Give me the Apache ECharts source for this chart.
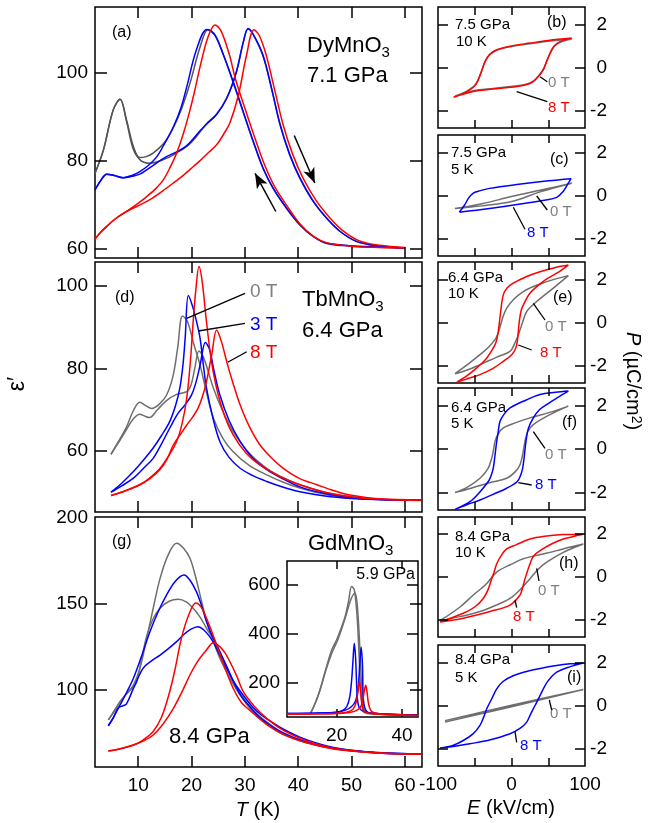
<!DOCTYPE html>
<html>
<head>
<meta charset="utf-8">
<script src="https://cdn.jsdelivr.net/npm/echarts@6.0.0/dist/echarts.min.js"></script>
<style>
  html, body { margin: 0; padding: 0; background: #fff; }
  #chart { width: 653px; height: 823px; }
</style>
</head>
<body>
<div id="chart"></div>
<script>
// ---- data: [T (K), eps'] or [E (kV/cm), P (uC/cm2)] ----
// (a) DyMnO3 7.1 GPa, two branches per field
var aGray1 = [[1.9,77.1],[3.5,82.5],[5.3,91.5],[6.6,94],[7.8,89.3],[9.1,83.2],[10.3,80.7],[11.5,80.9],[12.8,81.7],[15.3,84.7],[17.8,90.8],[19.7,97.6],[21.6,105.9],[23.1,109.9],[24.5,108.5],[26,104],[27.8,97.8],[29.7,90.9],[31.6,84.1],[33.4,78.2],[35.3,73.6],[37.8,69.1],[40.3,65.3],[42.8,62.7],[45.3,61.1],[49.7,60.5],[55,60.3],[60,60.1]];
var aGray2 = [[1.9,77.1],[3.5,82.5],[5.3,91.5],[6.6,94],[7.8,89],[9.1,82.5],[10.5,80],[12.2,79.4],[15.3,80.5],[17,81.6],[19.1,83.2],[21,85.6],[22.8,88.4],[24.7,90.6],[26.6,94.3],[28.4,100.2],[29.7,107],[30.6,110],[31.5,108.8],[33.4,103.8],[35,96.3],[36.6,88.3],[38.4,81.5],[40.3,76.1],[42.8,70.8],[45.3,66.9],[47.8,63.9],[50.9,61.6],[54.7,60.6],[60,60.1]];
var aBlue1 = [[1.9,73.3],[3,75.5],[4.1,76.9],[5.5,76.6],[7.2,76.1],[8.8,76.6],[10.3,77.5],[12,79],[13.5,80.9],[15,84],[16.6,87.7],[18,92],[19.1,96.8],[20.9,105.2],[22.9,109.9],[24.3,108.7],[26,104],[27.8,98],[29.7,91.1],[31.6,84.3],[33.4,78.3],[35.3,73.7],[37.8,69.2],[40.3,65.4],[42.8,62.7],[45.3,61.2],[49.7,60.6],[55,60.3],[60,60.1]];
var aBlue2 = [[1.9,73.3],[3,75.5],[4.1,76.9],[5.5,76.6],[7.2,76.1],[8.8,76.4],[10.3,76.9],[11.6,77.9],[13.5,79.5],[15.3,80.9],[17.2,82],[19.1,83.4],[21.6,86.8],[22.8,88.3],[24.7,90.5],[26.6,94.2],[28.4,100.2],[29.7,107],[30.6,110.1],[31.7,108.5],[33.4,104],[35,96.5],[36.6,88.1],[38.4,81.3],[40.3,76],[42.8,70.7],[45.3,66.9],[47.8,63.9],[50.9,61.6],[54.7,60.6],[60,60.1]];
var aRed1 = [[1.9,62.1],[3,63.7],[4.1,65],[5.8,66.8],[7.8,68.4],[9.7,70],[11.6,71.8],[13.2,73.5],[14.7,75.6],[16,78.5],[17.2,81.7],[18.5,86.3],[19.7,91.5],[20.7,96.5],[21.6,101.4],[23.1,108.2],[24.4,110.9],[25.5,109.6],[27,104.5],[28.3,98.3],[30.2,91.2],[32,84.7],[33.8,78.7],[35.6,74],[38,69.5],[40.3,65.6],[42.8,62.8],[45.3,61.3],[50,60.5],[55,60.2],[60,60.1]];
var aRed2 = [[1.9,62.1],[3,63.7],[4.1,65],[5.8,66.8],[7.8,68.4],[10,69.7],[12.2,71.1],[14.5,73],[16.6,74.9],[18.5,76.7],[20.3,78.6],[21.6,80],[22.8,81.4],[24.7,83.6],[26,86],[27.2,88.6],[28.8,95],[30.3,104],[31.7,109.8],[32.7,108.5],[34,104],[35.6,96],[37.2,88],[39,81.3],[40.9,76],[43.4,70.8],[45.9,67],[48.4,64],[51.5,61.7],[55.3,60.7],[60,60.2]];

// (d) TbMnO3 6.4 GPa
var dGray1 = [[4.9,59.2],[6.3,62.3],[7.8,65.8],[9.1,69.8],[10.3,71.8],[11.4,71],[12.5,70.3],[13.9,71.3],[15.3,73.5],[16.5,78],[17.4,85],[18.3,92.7],[19.2,91.5],[20.4,86],[21.6,80.8],[22.8,74.2],[24.1,67.9],[25.9,63],[27.8,59.8],[30.8,56.5],[34.1,54.2],[37.2,52.4],[40.3,51],[45,49.5],[50,48.6],[55,48.2],[63,48.1]];
var dGray2 = [[4.9,59.2],[6.3,62],[7.8,65.2],[9.1,67.8],[10.3,68.9],[11.3,68.4],[12.1,68.1],[13.6,70],[15.3,72.2],[17.2,73.7],[19.1,74.4],[19.9,76],[20.6,80],[21.4,84.2],[22.3,82.5],[24.1,75.2],[25.9,69.5],[27.8,64.7],[30.8,59.5],[34.1,55.8],[37.2,53.5],[40.3,51.8],[45,50],[50,48.9],[55,48.3],[63,48.1]];
var dBlue1 = [[4.9,50],[7,52.3],[9.1,55],[11,57.8],[12.8,60.7],[14.4,63.8],[15.9,67.1],[17,71],[17.8,75.2],[18.4,81],[18.8,87.3],[19.4,97.7],[20.2,95],[21,91],[21.6,87.3],[22.2,81],[22.8,75.2],[24,68],[25.3,62.3],[27,58.5],[29.1,55.8],[31.5,54],[34.1,52.6],[37.2,51.2],[40.3,50.1],[45,49.1],[50,48.5],[55,48.2],[63,48.1]];
var dBlue2 = [[4.9,50],[7,51.6],[9.1,53.4],[11,55.8],[12.8,58.2],[14.4,61.8],[15.9,65.5],[17.4,69],[18.8,71.2],[20,73.6],[20.8,76.5],[21.6,80.8],[22.6,86.3],[23.4,84.5],[24.2,79.5],[25.3,73.6],[27,67.5],[29.1,62.3],[31.5,58.2],[34.1,55.5],[37.2,53.2],[40.3,51.3],[45,49.7],[50,48.7],[55,48.2],[63,48.1]];
var dRed1 = [[4.9,49.2],[7.5,50.3],[10.3,51.8],[12.2,53.5],[14.1,55.8],[15.7,58.8],[17.2,62.3],[18.2,66.5],[19.1,72.8],[19.8,82],[20.3,91.3],[20.8,99],[21.4,104.7],[22,101],[22.8,91.3],[23.7,82],[24.7,75.2],[26.2,68.5],[27.8,63.9],[30.2,59.5],[32.8,56.6],[36.5,53.8],[40.3,51.8],[45,50],[49.7,48.9],[55,48.3],[63,48]];
var dRed2 = [[4.9,49.2],[7.5,50.3],[10.3,51.8],[12.2,53.3],[14.1,55.5],[15.4,58],[16.6,61.5],[17.9,64],[19.1,66.3],[20.2,68.2],[21.2,70.3],[22,73],[22.8,76.8],[23.8,83.5],[24.7,89.3],[25.6,86.5],[26.6,81.6],[27.8,76.3],[29.1,71.2],[30.8,66],[32.8,61.5],[35,58.3],[37.2,55.8],[40.3,53.3],[43.5,51.8],[46.6,50.4],[49.7,49.3],[55,48.4],[63,48.1]];

// (g) GdMnO3 8.4 GPa
var gGray1 = [[4.4,82.2],[5.5,87],[6.6,92.8],[7.8,97.5],[9.1,102.5],[10.3,112],[11.6,129.7],[12.8,147],[14.1,164.5],[15.6,178],[17.2,184.9],[18.5,182],[19.7,176.2],[20.7,166],[21.6,154.8],[22.8,140],[24.1,127.7],[25.6,116],[27.8,103],[29.7,94],[30.9,89],[32.5,84],[34.1,80],[37,74.5],[40.3,70.2],[43.5,67.5],[46.6,65.5],[50,64.2],[55,63],[63,62.2]];
var gGray2 = [[4.4,82.2],[5.5,87.5],[6.6,92.8],[7.8,97.2],[9.1,101.5],[9.7,104],[10.6,117],[11.6,131],[12.8,141],[14.1,147.1],[15.8,151.2],[17.5,152.3],[19,150.8],[20.3,147.1],[21.6,142],[22.8,135.5],[24.7,125.8],[26.3,114.5],[27.8,104.5],[29.7,95],[30.9,90],[32.5,85],[34.1,81],[37,75],[40.3,70.6],[43.5,67.8],[46.6,65.8],[50,64.4],[55,63.1],[63,62.3]];
var gBlue1 = [[4.4,78.8],[5.5,84.5],[6.6,90.9],[7.8,98],[9.1,106.4],[10.6,119],[12.2,133.5],[13.8,145.5],[15.3,154.8],[17,163],[18.6,166.5],[19.8,163],[20.9,156.8],[21.9,148.5],[22.8,139.3],[23.8,131.5],[24.7,125.8],[26.2,116],[27.8,105],[29.3,96],[30.9,90],[32.5,84.5],[34.1,80.5],[37,74.8],[40.3,70.5],[43.5,67.6],[46.6,65.6],[50,64.3],[55,63],[63,62.2]];
var gBlue2 = [[4.4,78.8],[5.3,83],[6.2,89],[7.2,90.5],[7.8,91.5],[9.1,100.5],[10.9,112.2],[12.5,116.5],[14.1,119.9],[15.6,123.5],[17.2,127.7],[18.6,132],[19.9,135],[21.2,136.4],[22.3,134.5],[23.4,130.6],[24.4,125.5],[25.3,119.9],[26.6,112],[28,104],[29.7,96.5],[31.5,89.5],[33,85.2],[35,81],[37.5,76.3],[40.3,72.2],[43.5,68.7],[46.6,66.2],[50,64.6],[55,63.2],[63,62.3]];
var gRed1 = [[4.4,64.1],[6.5,65.3],[9.1,67.6],[10.9,70.5],[12.8,75.4],[14.4,84],[15.9,98.6],[17,113],[18.1,129.7],[19.5,143.5],[20.8,150.2],[21.8,147.8],[22.8,141.3],[23.8,133.5],[24.7,125.8],[26.2,113],[27.8,100.6],[29.3,92.5],[30.9,87.8],[32.5,83.5],[34.1,79.5],[37,74],[40.3,70],[43.5,67.3],[46.6,65.3],[50,64.1],[55,63],[63,62.2]];
var gRed2 = [[4.4,64.1],[6.5,65.3],[9.1,67.6],[11,70],[12.8,73.4],[14.7,80],[16.6,88.9],[18.2,98.5],[19.7,108.3],[21.2,116.5],[22.8,122.9],[24.1,127.1],[25.3,124.8],[26.3,121],[27.2,116],[28.5,107.5],[29.7,98.6],[31.8,90],[34.1,83.1],[37,76.5],[40.3,71.5],[43.5,68],[46.6,65.7],[50,64.4],[55,62.9],[63,62.2]];

// inset of (g), 5.9 GPa
var insGray1 = [[11.8,67.6],[13.3,110],[14.9,170],[16.7,255],[18.5,334],[20,375],[21.3,420],[22.6,470],[23.6,530],[24.6,593],[25.4,580],[26.2,480],[26.8,330],[27.3,180],[27.8,100],[28.6,75],[31,70],[40,67],[44.9,66]];
var insGray2 = [[11.8,67.6],[13.3,110],[14.9,168],[16.7,250],[18.5,320],[19.5,350],[20.5,380],[21.8,430],[23.2,490],[24.5,545],[25.6,566],[26.2,530],[26.8,420],[27.4,250],[27.9,140],[28.6,85],[31,72],[40,67],[44.9,66]];
var insBlue1 = [[4.8,72],[15,74],[20,77],[22,86],[23.1,101],[24,140],[24.6,211],[25,290],[25.4,361],[25.8,300],[26.3,143],[26.8,100],[28,82],[32,72],[40,67],[44.9,66]];
var insBlue2 = [[4.8,72],[15,74],[20,78],[22.5,85],[24.5,100],[25.8,125],[26.6,180],[27.1,280],[27.5,345],[27.9,270],[28.2,129],[29.2,81],[32,72],[40,67],[44.9,66]];
var insRed1 = [[4.8,70],[15,71],[20,73],[23,78],[25,90],[26,120],[26.5,160],[26.9,204],[27.3,170],[27.8,110],[28.5,80],[32,70],[40,66],[44.9,64]];
var insRed2 = [[4.8,70],[15,71],[20,72],[24,76],[26.5,88],[27.7,110],[28.4,160],[28.9,188],[29.3,160],[29.8,110],[30.8,80],[34,70],[40,66],[44.9,64]];

// P-E loops
var bGray = [[-77,-1.33],[-52,-1.08],[-25,-0.97],[2.4,-0.87],[20,-0.77],[29.7,-0.63],[36.5,-0.4],[43.3,-0.08],[48,0.3],[52.4,0.64],[58,0.97],[66,1.17],[82,1.32],[50,1.22],[25.2,1.1],[0,0.97],[-20.1,0.8],[-30,0.58],[-36,0.26],[-40.5,-0.15],[-45.2,-0.55],[-50,-0.83],[-56.5,-1.0],[-65,-1.17],[-77,-1.33]];
var bRed = [[-79,-1.38],[-52,-1.11],[-25,-1.0],[2.4,-0.9],[20,-0.8],[29.7,-0.65],[36.5,-0.42],[43.3,-0.11],[48,0.3],[52.4,0.66],[58,1.0],[66,1.2],[81.9,1.36],[50,1.25],[25.2,1.13],[0,1.0],[-20.1,0.82],[-30,0.6],[-36,0.28],[-40.5,-0.15],[-45.2,-0.57],[-50,-0.85],[-56.5,-1.03],[-65,-1.2],[-79,-1.38]];
var cGray = [[-77,-0.6],[-40,-0.38],[0,-0.05],[40,0.25],[82,0.57],[40,0.18],[0,-0.28],[-40,-0.48],[-77,-0.6]];
var cBlue = [[-71,-0.77],[-30,-0.6],[10,-0.4],[45,-0.22],[61.5,-0.09],[70.5,0.2],[76,0.5],[81,0.78],[50,0.68],[10,0.52],[-30,0.33],[-45,0.2],[-52,0.11],[-58,-0.1],[-64,-0.45],[-71,-0.77]];
var eGray = [[-76.9,-2.37],[-60,-2.2],[-42.9,-1.95],[-20,-1.6],[-2,-1.34],[4,-1.0],[9.3,-0.57],[15,0],[20.7,0.51],[34.3,0.97],[56.9,1.59],[77.3,2.17],[47.9,1.89],[16,1.43],[-6.5,0.66],[-20.1,-0.65],[-30,-1.1],[-42.9,-1.49],[-60,-1.95],[-76.9,-2.37]];
var eRed = [[-74.6,-2.77],[-60,-2.6],[-42.9,-2.41],[-25,-2.12],[-11.2,-1.8],[0,-1.5],[4.8,-1.26],[7.9,-0.88],[10.6,0.05],[13.5,0.6],[18.4,0.97],[25,1.35],[34.3,1.66],[47,2.0],[61.5,2.28],[77.3,2.66],[60,2.55],[38.8,2.35],[20,2.12],[2.4,1.82],[-6,1.6],[-11.2,1.28],[-14.7,0.51],[-18,-0.42],[-21,-0.9],[-24.8,-1.18],[-35,-1.7],[-47.3,-2.1],[-60,-2.45],[-74.6,-2.77]];
var fGray = [[-76.9,-2.0],[-55,-1.8],[-30,-1.55],[-6.5,-1.34],[5,-1.05],[11.6,-0.72],[15.5,-0.2],[18.4,0.35],[22,0.8],[29.7,1.12],[52.4,1.58],[77.3,1.97],[52,1.68],[25.2,1.43],[5,1.2],[-11.2,0.97],[-18,0.7],[-22.4,0.35],[-24.8,-0.1],[-26.9,-0.42],[-32,-0.9],[-42.9,-1.34],[-60,-1.75],[-76.9,-2.0]];
var fBlue = [[-76.9,-2.77],[-60,-2.55],[-42.9,-2.34],[-25,-2.08],[-6.5,-1.8],[7.9,-1.49],[12.5,-1.2],[15.2,-0.88],[17.5,-0.3],[19.7,0.35],[23,0.95],[29.7,1.43],[38,1.8],[47.9,2.04],[62,2.35],[77.3,2.66],[60,2.6],[38.8,2.5],[20,2.25],[-2,1.89],[-10,1.6],[-15.6,1.27],[-18,0.8],[-20.1,0.35],[-22.5,-0.3],[-24.8,-0.88],[-28,-1.25],[-31.6,-1.49],[-45,-2.05],[-56.5,-2.42],[-76.9,-2.77]];
var hGray = [[-97.3,-2.04],[-70,-1.85],[-42.9,-1.61],[-20,-1.3],[-2,-1.0],[12,-0.58],[25.2,-0.08],[36,0.35],[47.9,0.69],[70.5,1.15],[97.7,1.54],[80,1.4],[61.5,1.23],[40,1.05],[16,0.85],[0,0.6],[-20.1,0.23],[-35,-0.35],[-52,-0.84],[-70,-1.4],[-97.3,-2.04]];
var hRed = [[-97.3,-2.1],[-65.6,-1.92],[-29.3,-1.61],[-2,-1.31],[11.6,-0.84],[15,-0.5],[18.4,-0.08],[25.2,0.62],[30,0.98],[38.8,1.23],[55,1.55],[70.5,1.77],[97.7,2.0],[70,1.98],[45,1.9],[25.2,1.77],[6,1.5],[-6.5,1.31],[-14,1.0],[-20.1,0.62],[-23.5,0.25],[-26.9,-0.08],[-32,-0.6],[-38.4,-1.0],[-50,-1.4],[-65.6,-1.69],[-97.3,-2.1]];
var iGray = [[-90.5,-0.77],[0,-0.06],[97.7,0.74],[0,0.01],[-90.5,-0.7]];
var iBlue = [[-97.3,-1.97],[-75,-1.87],[-56.5,-1.77],[-30,-1.6],[-2,-1.31],[12,-1.05],[20.7,-0.77],[26,-0.4],[32,0],[38,0.4],[43.3,0.77],[50,1.15],[61.5,1.54],[80,1.8],[97.7,1.97],[80,1.93],[61.5,1.85],[30,1.65],[2.4,1.38],[-12,1.1],[-20.1,0.77],[-27,0.3],[-33.7,-0.15],[-38,-0.55],[-42.9,-0.92],[-52,-1.3],[-65.6,-1.62],[-80,-1.85],[-97.3,-1.97]];

// tick values
var tTicks = [10, 20, 30, 40, 50, 60];
var aTicks = [60, 80, 100];
var dTicks = [60, 80, 100];
var gTicks = [100, 150, 200];
var insXTicks = [20, 40];
var insYTicks = [200, 400, 600];
var eTicks = [-50, 0, 50];
var eLabels = [-100, 0, 100];
var pTicks = [-2, 0, 2];

// ---- layout helpers ----
var FONT = '"Liberation Sans", Arial, Helvetica, sans-serif';
var GRAY = '#545454', GRAY2 = '#6e6e6e', BLUE = '#0000ff', RED = '#ff0000', LGRAY = '#808080';
var grids = [], xAxes = [], yAxes = [], series = [], graphics = [], panels = [];

function tickLabel(show, vals, margin, extra) {
  var l = {show: show, customValues: vals, margin: margin, fontSize: 19, fontFamily: FONT, color: '#000'};
  for (var k in extra || {}) l[k] = extra[k];
  return l;
}

// one framed panel = grid + bottom x axis + main y axis (labels only)
function addPanel(p) {
  var g = grids.length, z = p.z || 0;
  panels.push(p);
  grids.push({left: p.box[0], top: p.box[1], width: p.box[2], height: p.box[3], show: true,
    borderColor: '#000', borderWidth: 1.5, backgroundColor: p.bg || 'transparent', z: z});
  ['bottom', 'top'].forEach(function (pos) {
    xAxes.push({gridIndex: g, type: 'value', min: p.x[0], max: p.x[1], position: pos, z: z + 1,
      axisLine: {show: false, onZero: false}, splitLine: {show: false}, axisTick: {show: false},
      axisLabel: tickLabel(pos === 'bottom' && !!p.xl, p.xl || p.xt, 9)});
  });
  var side = p.yside || 'left';
  [side, side === 'left' ? 'right' : 'left'].forEach(function (pos, i) {
    yAxes.push({gridIndex: g, type: 'value', min: p.y[0], max: p.y[1], position: pos, z: z + 1,
      axisLine: {show: false, onZero: false}, splitLine: {show: false}, axisTick: {show: false},
      axisLabel: tickLabel(i === 0, p.yt, pos === 'right' ? 22 : 7, pos === 'right' ? {align: 'right'} : {})});
  });
  return g;
}

// inward ticks on all four sides, placed in data coordinates of the panel
function frameTicks(p) {
  var dy = p.xtl * (p.y[1] - p.y[0]) / p.box[3];
  var dx = p.ytl * (p.x[1] - p.x[0]) / p.box[2];
  var out = [];
  p.xt.forEach(function (t) {
    out.push([{coord: [t, p.y[0]]}, {coord: [t, p.y[0] + dy]}]);
    out.push([{coord: [t, p.y[1]]}, {coord: [t, p.y[1] - dy]}]);
  });
  p.yt.forEach(function (t) {
    if (t >= p.y[1] - 0.5 * (p.y[1] - p.y[0]) / p.box[3] * 2) return;
    out.push([{coord: [p.x[0], t]}, {coord: [p.x[0] + dx, t]}]);
    out.push([{coord: [p.x[1], t]}, {coord: [p.x[1] - dx, t]}]);
  });
  return {silent: true, symbol: ['none', 'none'], animation: false, label: {show: false},
    emphasis: {disabled: true}, lineStyle: {color: '#000', width: 1.5, type: 'solid'}, data: out};
}

function addLine(g, data, color, z, extra) {
  var s = {type: 'line', xAxisIndex: 2 * g, yAxisIndex: 2 * g, data: data, showSymbol: false,
    smooth: 0.35, silent: true, z: z || 2, lineStyle: {color: color, width: 1.5}};
  if (!panels[g].ticked) { s.markLine = frameTicks(panels[g]); panels[g].ticked = true; }
  for (var k in extra || {}) s[k] = extra[k];
  series.push(s);
}

function txt(x, y, s, size, color, extra) {
  var e = {type: 'text', x: x, y: y, z: 100, style: {text: s, fontSize: size || 15, fontFamily: FONT,
    fill: color || '#000', align: 'left', verticalAlign: 'middle'}};
  for (var k in extra || {}) e.style[k] = extra[k];
  graphics.push(e);
  return e;
}

function lead(x1, y1, x2, y2) {
  graphics.push({type: 'line', z: 100, shape: {x1: x1, y1: y1, x2: x2, y2: y2},
    style: {stroke: '#000', lineWidth: 1.3}});
}

var ctx = document.createElement('canvas').getContext('2d');
function formula(x, y, base, sub, size) {
  ctx.font = size + 'px ' + FONT;
  var w = ctx.measureText(base).width;
  txt(x, y, base, size);
  txt(x + w, y + size * 0.3, sub, Math.round(size * 0.68));
}

// ---- panels ----
var pA = addPanel({box: [95, 7, 327, 251], x: [1.9, 63.2], y: [57.8, 115], xt: tTicks, yt: aTicks, xtl: 11, ytl: 12});
var pD = addPanel({box: [95, 262, 327, 250], x: [1.9, 63.2], y: [45.2, 105.8], xt: tTicks, yt: dTicks, xtl: 11, ytl: 12});
var pG = addPanel({box: [95, 517, 327, 250], x: [1.9, 63.2], y: [54.8, 200.2], xt: tTicks, yt: gTicks, xl: tTicks, xtl: 11, ytl: 12});
var pIns = addPanel({box: [287, 561, 131, 156], x: [4.8, 44.9], y: [58, 698], xt: insXTicks, yt: insYTicks, xl: insXTicks, xtl: 8, ytl: 11, bg: '#fff', z: 5});

var rightBoxes = {b: [438, 7, 147, 121], c: [438, 135, 147, 121], e: [438, 262, 147, 121],
  f: [438, 388, 147, 122], h: [438, 517, 147, 120], i: [438, 645, 147, 121]};
var pR = {};
Object.keys(rightBoxes).forEach(function (k) {
  pR[k] = addPanel({box: rightBoxes[k], x: [-100, 100], y: [-2.8, 2.8], xt: eTicks, yt: pTicks,
    xl: k === 'i' ? eLabels : null, xtl: 8, ytl: 10, yside: 'right'});
});

// ---- curves ----
addLine(pA, aGray1, GRAY);
addLine(pA, aGray2, GRAY, 2, {markLine: {silent: true, symbol: ['none', 'arrow'], symbolSize: [9, 15], animation: false,
  label: {show: false}, lineStyle: {color: '#000', width: 1.5, type: 'solid'},
  data: [[{coord: [39.25, 85.7]}, {coord: [43.1, 74.9]}], [{coord: [35.8, 68.4]}, {coord: [31.9, 77.1]}]]}});
addLine(pA, aBlue1, BLUE, 3);
addLine(pA, aBlue2, BLUE, 3);
addLine(pA, aRed1, RED, 4);
addLine(pA, aRed2, RED, 4);

addLine(pD, dGray1, GRAY2);
addLine(pD, dGray2, GRAY2);
addLine(pD, dBlue1, BLUE, 3);
addLine(pD, dBlue2, BLUE, 3);
addLine(pD, dRed1, RED, 4);
addLine(pD, dRed2, RED, 4);

addLine(pG, gGray1, GRAY2);
addLine(pG, gGray2, GRAY2);
addLine(pG, gBlue1, BLUE, 3);
addLine(pG, gBlue2, BLUE, 3);
addLine(pG, gRed1, RED, 4);
addLine(pG, gRed2, RED, 4);

addLine(pIns, insGray1, GRAY2, 7);
addLine(pIns, insGray2, GRAY2, 7);
addLine(pIns, insBlue1, BLUE, 8);
addLine(pIns, insBlue2, BLUE, 8);
addLine(pIns, insRed1, RED, 9);
addLine(pIns, insRed2, RED, 9);

addLine(pR.b, bGray, GRAY2);
addLine(pR.b, bRed, RED, 3);
addLine(pR.c, cGray, GRAY2);
addLine(pR.c, cBlue, BLUE, 3);
addLine(pR.e, eGray, GRAY2);
addLine(pR.e, eRed, RED, 3);
addLine(pR.f, fGray, GRAY2);
addLine(pR.f, fBlue, BLUE, 3);
addLine(pR.h, hGray, GRAY2);
addLine(pR.h, hRed, RED, 3);
addLine(pR.i, iGray, GRAY2);
addLine(pR.i, iBlue, BLUE, 3);

// ---- annotations ----
txt(112, 33, '(a)', 16);
formula(307, 46, 'DyMnO', '3', 22);
txt(307, 76, '7.1 GPa', 22);

txt(115, 298, '(d)', 16);
formula(302, 300, 'TbMnO', '3', 22);
txt(302, 331, '6.4 GPa', 22);
txt(250, 292, '0 T', 19, LGRAY);
txt(250, 325, '3 T', 19, BLUE);
txt(250, 353, '8 T', 19, RED);
lead(186.7, 318.3, 245, 293.3);
lead(198.3, 331, 245, 323.3);
lead(227.7, 362.3, 246.7, 351.7);

txt(112, 542, '(g)', 16);
formula(308, 544, 'GdMnO', '3', 22);
txt(169, 737, '8.4 GPa', 22);
txt(415, 575, '5.9 GPa', 16, '#000', {align: 'right'});

txt(455, 25, '7.5 GPa', 15); txt(456, 42, '10 K', 15);
txt(547, 23, '(b)', 16);
txt(548, 83, '0 T', 15, LGRAY); lead(540, 76.7, 547.3, 81.7);
txt(548, 108, '8 T', 15, RED); lead(516.7, 91.7, 547.3, 101.7);

txt(451, 153, '7.5 GPa', 15); txt(451, 170, '5 K', 15);
txt(550, 160, '(c)', 16);
txt(550, 212, '0 T', 15, LGRAY); lead(536.7, 196, 547.3, 210);
txt(527, 233, '8 T', 15, BLUE); lead(513.3, 207.3, 525, 229.3);

txt(448, 278, '6.4 GPa', 15); txt(448, 294, '10 K', 15);
txt(553, 298, '(e)', 16);
txt(545, 327, '0 T', 15, LGRAY); lead(533.3, 303.3, 545, 320);
txt(540, 353, '8 T', 15, RED); lead(518.3, 345, 531.7, 350);

txt(451, 408, '6.4 GPa', 15); txt(451, 424, '5 K', 15);
txt(562, 423, '(f)', 16);
txt(545, 455, '0 T', 15, LGRAY); lead(533.3, 431.7, 545, 448.3);
txt(535, 485, '8 T', 15, BLUE); lead(518.3, 482.7, 531.7, 485);

txt(455, 537, '8.4 GPa', 15); txt(455, 553, '10 K', 15);
txt(559, 564, '(h)', 16);
txt(538, 591, '0 T', 15, LGRAY); lead(536.7, 568.3, 539, 581);
txt(513, 617, '8 T', 15, RED); lead(515, 600, 516.7, 607.7);

txt(455, 660, '8.4 GPa', 15); txt(455, 678, '5 K', 15);
txt(567, 678, '(i)', 16);
txt(550, 714, '0 T', 15, LGRAY); lead(549.3, 700, 551.7, 710);
txt(520, 746, '8 T', 15, BLUE); lead(515, 731.7, 516.7, 742.3);

// axis titles
graphics.push({type: 'text', x: 18, y: 384, rotation: Math.PI / 2, z: 100,
  style: {text: 'ε′', fontSize: 23, fontFamily: FONT, fill: '#000', align: 'center', verticalAlign: 'middle'}});
graphics.push({type: 'text', x: 258, y: 810, z: 100,
  style: {text: '{i|T} (K)', fontSize: 20, fontFamily: FONT, fill: '#000', align: 'center', verticalAlign: 'middle',
    rich: {i: {fontSize: 20, fontFamily: FONT, fontStyle: 'italic'}}}});
graphics.push({type: 'text', x: 511, y: 808, z: 100,
  style: {text: '{i|E} (kV/cm)', fontSize: 20, fontFamily: FONT, fill: '#000', align: 'center', verticalAlign: 'middle',
    rich: {i: {fontSize: 20, fontFamily: FONT, fontStyle: 'italic'}}}});
graphics.push({type: 'text', x: 633, y: 381, rotation: -Math.PI / 2, z: 100,
  style: {text: '{i|P}{n| (µC/cm}{s|2}{n|)}', fontSize: 20, fontFamily: FONT, fill: '#000', align: 'center', verticalAlign: 'middle',
    rich: {i: {fontSize: 20, fontFamily: FONT, fontStyle: 'italic', verticalAlign: 'bottom'},
      n: {fontSize: 20, fontFamily: FONT, verticalAlign: 'bottom'},
      s: {fontSize: 14, fontFamily: FONT, verticalAlign: 'top'}}}});

var chart = echarts.init(document.getElementById('chart'), null, {renderer: 'canvas'});
chart.setOption({
  animation: false,
  backgroundColor: '#fff',
  grid: grids,
  xAxis: xAxes,
  yAxis: yAxes,
  series: series,
  graphic: {elements: graphics}
});
window.addEventListener('resize', function () { chart.resize(); });
</script>
</body>
</html>
